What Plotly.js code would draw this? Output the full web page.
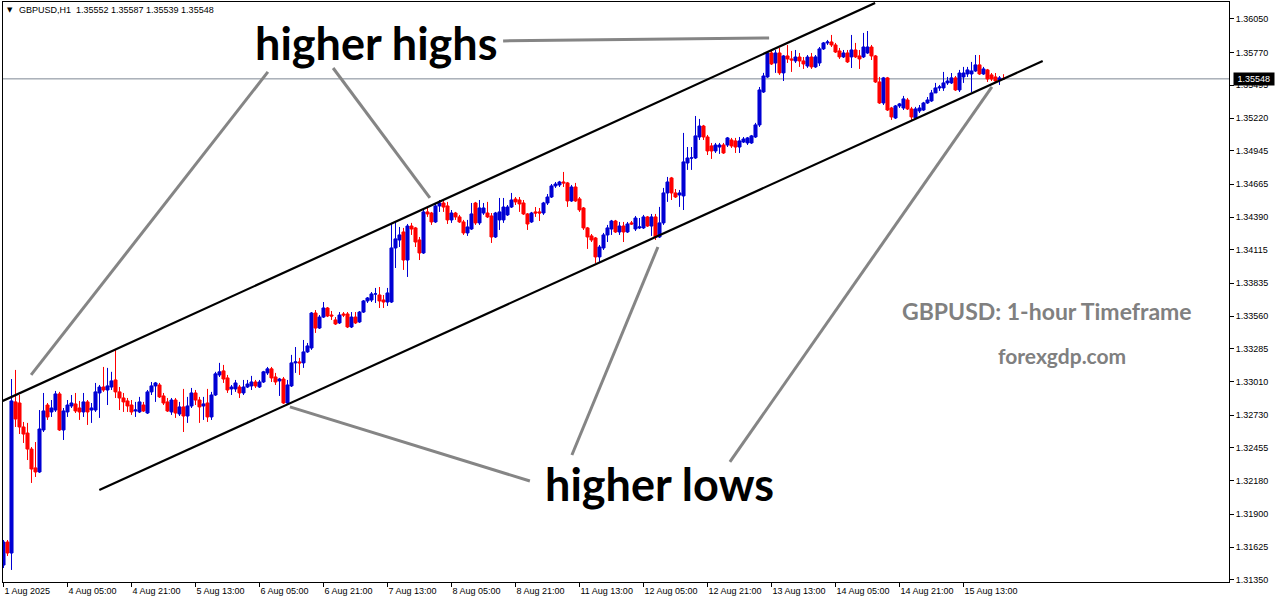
<!DOCTYPE html>
<html>
<head>
<meta charset="utf-8">
<script src="https://cdn.plot.ly/plotly-3.0.1.min.js"></script>
<style>
html,body{margin:0;padding:0;background:#fff;}
#chart{width:1276px;height:604px;}
</style>
</head>
<body>
<div id="chart"></div>
<script>
// ---- data (GBPUSD H1) ----
const open = [
1.31474,1.31667,1.31575,1.32841,1.32832,1.32631,1.32580,1.32446,1.32288,1.32254,
1.32606,1.32815,1.32757,1.32773,1.32908,1.32606,1.32757,1.32807,1.32824,1.32790,
1.32757,1.32841,1.32773,1.32773,1.32916,1.32966,1.32941,1.32966,1.33025,1.32925,
1.32874,1.32849,1.32815,1.32765,1.32757,1.32815,1.32748,1.32925,1.32975,1.32983,
1.32891,1.32841,1.32757,1.32857,1.32740,1.32799,1.32723,1.32807,1.32916,1.32857,
1.32807,1.32832,1.32715,1.32899,1.33067,1.33101,1.33042,1.32950,1.32950,1.32966,
1.32916,1.32966,1.32975,1.33008,1.32966,1.33008,1.33084,1.33118,1.33050,1.33017,
1.33033,1.32832,1.32975,1.33168,1.33176,1.33168,1.33260,1.33293,1.33586,1.33460,
1.33552,1.33628,1.33569,1.33528,1.33503,1.33578,1.33578,1.33469,1.33552,1.33511,
1.33594,1.33687,1.33695,1.33746,1.33737,1.33695,1.33678,1.33678,1.34131,1.34198,
1.34265,1.34030,1.34315,1.34299,1.34198,1.34089,1.34433,1.34424,1.34349,1.34483,
1.34508,1.34483,1.34366,1.34424,1.34391,1.34349,1.34257,1.34290,1.34508,1.34341,
1.34424,1.34424,1.34399,1.34223,1.34366,1.34366,1.34408,1.34474,1.34541,1.34533,
1.34508,1.34416,1.34349,1.34433,1.34433,1.34424,1.34508,1.34558,1.34651,1.34659,
1.34684,1.34676,1.34525,1.34642,1.34542,1.34466,1.34299,1.34232,1.34215,1.34056,
1.34131,1.34240,1.34290,1.34357,1.34265,1.34315,1.34265,1.34341,1.34290,1.34299,
1.34299,1.34391,1.34315,1.34391,1.34223,1.34341,1.34592,1.34718,1.34592,1.34575,
1.34567,1.34843,1.34885,1.34885,1.35061,1.35153,1.35061,1.34986,1.34944,1.34977,
1.34994,1.34994,1.35036,1.35028,1.34977,1.35019,1.35011,1.35011,1.35061,1.35162,
1.35438,1.35564,1.35765,1.35681,1.35765,1.35598,1.35740,1.35715,1.35698,1.35731,
1.35698,1.35656,1.35731,1.35648,1.35681,1.35799,1.35849,1.35857,1.35832,1.35782,
1.35732,1.35765,1.35732,1.35790,1.35740,1.35732,1.35765,1.35815,1.35740,1.35522,
1.35346,1.35556,1.35304,1.35220,1.35321,1.35304,1.35371,1.35296,1.35220,1.35279,
1.35287,1.35346,1.35363,1.35430,1.35472,1.35472,1.35514,1.35514,1.35556,1.35455,
1.35564,1.35589,1.35589,1.35614,1.35665,1.35589,1.35623,1.35581,1.35564,1.35539,
1.35552];
const high = [
1.31684,1.31684,1.33033,1.33109,1.32899,1.32673,1.32665,1.32463,1.32505,1.32773,
1.32916,1.32832,1.32857,1.32933,1.32925,1.32790,1.32857,1.32899,1.32916,1.32849,
1.32916,1.32857,1.32832,1.33000,1.32983,1.33134,1.33126,1.33093,1.33284,1.32966,
1.32916,1.32874,1.32857,1.32841,1.32883,1.32841,1.32941,1.33008,1.33008,1.33000,
1.32916,1.32874,1.32874,1.32874,1.32841,1.32950,1.32883,1.32958,1.32941,1.32883,
1.32883,1.32950,1.32925,1.33093,1.33168,1.33151,1.33067,1.32983,1.33025,1.32983,
1.33025,1.33025,1.33059,1.33025,1.33025,1.33101,1.33134,1.33134,1.33084,1.33042,
1.33050,1.33025,1.33235,1.33301,1.33210,1.33360,1.33335,1.33594,1.33611,1.33569,
1.33678,1.33636,1.33603,1.33552,1.33594,1.33594,1.33594,1.33594,1.33594,1.33603,
1.33695,1.33720,1.33762,1.33796,1.33804,1.33737,1.33796,1.34341,1.34349,1.34307,
1.34299,1.34332,1.34341,1.34307,1.34223,1.34449,1.34474,1.34433,1.34508,1.34533,
1.34533,1.34517,1.34449,1.34433,1.34408,1.34366,1.34366,1.34508,1.34517,1.34533,
1.34508,1.34517,1.34424,1.34433,1.34550,1.34550,1.34491,1.34592,1.34558,1.34558,
1.34533,1.34424,1.34433,1.34474,1.34466,1.34517,1.34583,1.34667,1.34684,1.34693,
1.34768,1.34684,1.34659,1.34676,1.34558,1.34474,1.34307,1.34248,1.34223,1.34156,
1.34257,1.34324,1.34366,1.34366,1.34349,1.34349,1.34349,1.34357,1.34399,1.34382,
1.34408,1.34399,1.34416,1.34416,1.34475,1.34634,1.34726,1.34726,1.34625,1.34617,
1.35095,1.34977,1.34977,1.35237,1.35212,1.35162,1.35078,1.35011,1.35011,1.35011,
1.35011,1.35061,1.35053,1.35053,1.35061,1.35061,1.35061,1.35078,1.35179,1.35480,
1.35598,1.35773,1.35790,1.35790,1.35807,1.35748,1.35832,1.35782,1.35790,1.35765,
1.35731,1.35748,1.35765,1.35748,1.35815,1.35857,1.35874,1.35916,1.35849,1.35807,
1.35790,1.35790,1.35916,1.35849,1.35790,1.35933,1.35949,1.35832,1.35748,1.35564,
1.35564,1.35564,1.35313,1.35329,1.35346,1.35405,1.35388,1.35313,1.35313,1.35329,
1.35355,1.35396,1.35455,1.35514,1.35497,1.35606,1.35564,1.35597,1.35572,1.35623,
1.35648,1.35648,1.35690,1.35748,1.35748,1.35648,1.35631,1.35597,1.35597,1.35572,
1.35587];
const low = [
1.31449,1.31550,1.31433,1.32631,1.32572,1.32497,1.32354,1.32162,1.32212,1.32246,
1.32589,1.32690,1.32715,1.32757,1.32598,1.32522,1.32715,1.32790,1.32748,1.32690,
1.32715,1.32648,1.32665,1.32757,1.32707,1.32925,1.32815,1.32941,1.32874,1.32773,
1.32757,1.32757,1.32732,1.32715,1.32748,1.32757,1.32740,1.32899,1.32841,1.32874,
1.32815,1.32757,1.32732,1.32707,1.32723,1.32589,1.32665,1.32790,1.32815,1.32665,
1.32690,1.32673,1.32690,1.32891,1.33050,1.33000,1.32916,1.32899,1.32925,1.32874,
1.32899,1.32958,1.32941,1.32958,1.32958,1.33000,1.33067,1.33008,1.32983,1.32891,
1.32824,1.32815,1.32966,1.33084,1.33067,1.33126,1.33252,1.33277,1.33419,1.33452,
1.33544,1.33552,1.33528,1.33486,1.33494,1.33552,1.33460,1.33460,1.33494,1.33503,
1.33586,1.33670,1.33678,1.33670,1.33628,1.33628,1.33645,1.33670,1.33963,1.34139,
1.33947,1.33888,1.34240,1.34139,1.34030,1.34081,1.34391,1.34324,1.34341,1.34433,
1.34433,1.34332,1.34341,1.34366,1.34341,1.34240,1.34232,1.34282,1.34324,1.34324,
1.34408,1.34382,1.34173,1.34215,1.34282,1.34341,1.34399,1.34466,1.34491,1.34433,
1.34408,1.34282,1.34341,1.34391,1.34357,1.34408,1.34491,1.34550,1.34634,1.34642,
1.34642,1.34475,1.34517,1.34517,1.34433,1.34282,1.34123,1.34181,1.34005,1.34014,
1.34114,1.34181,1.34240,1.34257,1.34240,1.34181,1.34257,1.34324,1.34273,1.34290,
1.34290,1.34307,1.34232,1.34198,1.34215,1.34324,1.34517,1.34533,1.34550,1.34475,
1.34449,1.34785,1.34785,1.34877,1.35036,1.35036,1.34910,1.34877,1.34927,1.34919,
1.34919,1.34977,1.34969,1.34927,1.34927,1.35011,1.34994,1.35003,1.35053,1.35145,
1.35430,1.35556,1.35664,1.35598,1.35581,1.35530,1.35681,1.35606,1.35681,1.35648,
1.35631,1.35640,1.35631,1.35640,1.35656,1.35790,1.35832,1.35815,1.35765,1.35715,
1.35723,1.35681,1.35639,1.35723,1.35631,1.35723,1.35757,1.35706,1.35514,1.35338,
1.35329,1.35279,1.35204,1.35212,1.35304,1.35287,1.35287,1.35204,1.35212,1.35262,
1.35279,1.35338,1.35355,1.35430,1.35447,1.35447,1.35497,1.35505,1.35447,1.35438,
1.35514,1.35564,1.35438,1.35606,1.35581,1.35581,1.35522,1.35530,1.35514,1.35497,
1.35539];
const close = [
1.31667,1.31575,1.32849,1.32698,1.32631,1.32572,1.32446,1.32279,1.32254,1.32614,
1.32765,1.32715,1.32790,1.32908,1.32606,1.32765,1.32815,1.32832,1.32765,1.32757,
1.32841,1.32757,1.32790,1.32925,1.32966,1.32941,1.32975,1.33017,1.32925,1.32874,
1.32841,1.32807,1.32757,1.32773,1.32841,1.32765,1.32925,1.32975,1.33000,1.32883,
1.32832,1.32765,1.32857,1.32748,1.32799,1.32723,1.32807,1.32916,1.32857,1.32799,
1.32824,1.32715,1.32899,1.33076,1.33093,1.33033,1.32941,1.32966,1.33000,1.32916,
1.32966,1.32991,1.33008,1.32975,1.33008,1.33093,1.33118,1.33042,1.33008,1.33033,
1.32832,1.32983,1.33168,1.33176,1.33168,1.33260,1.33310,1.33586,1.33460,1.33552,
1.33628,1.33561,1.33561,1.33494,1.33569,1.33569,1.33469,1.33552,1.33503,1.33594,
1.33687,1.33712,1.33746,1.33746,1.33687,1.33678,1.33754,1.34131,1.34207,1.34240,
1.34030,1.34315,1.34290,1.34181,1.34089,1.34433,1.34416,1.34349,1.34483,1.34508,
1.34474,1.34366,1.34424,1.34391,1.34349,1.34257,1.34307,1.34416,1.34341,1.34466,
1.34466,1.34391,1.34223,1.34424,1.34433,1.34474,1.34474,1.34533,1.34517,1.34500,
1.34416,1.34332,1.34424,1.34424,1.34424,1.34508,1.34558,1.34651,1.34667,1.34684,
1.34676,1.34525,1.34642,1.34525,1.34450,1.34299,1.34223,1.34198,1.34056,1.34139,
1.34240,1.34299,1.34357,1.34265,1.34315,1.34265,1.34332,1.34332,1.34382,1.34307,
1.34391,1.34315,1.34391,1.34223,1.34341,1.34592,1.34684,1.34592,1.34558,1.34592,
1.34852,1.34885,1.34885,1.35070,1.35153,1.35061,1.34944,1.34944,1.34994,1.34994,
1.34927,1.35053,1.34986,1.34977,1.35028,1.35044,1.35053,1.35070,1.35162,1.35455,
1.35572,1.35765,1.35673,1.35765,1.35598,1.35740,1.35715,1.35706,1.35731,1.35698,
1.35673,1.35731,1.35648,1.35732,1.35799,1.35849,1.35857,1.35832,1.35773,1.35732,
1.35765,1.35690,1.35790,1.35732,1.35715,1.35815,1.35815,1.35740,1.35522,1.35346,
1.35556,1.35287,1.35229,1.35321,1.35338,1.35380,1.35296,1.35229,1.35296,1.35304,
1.35346,1.35371,1.35430,1.35472,1.35480,1.35514,1.35530,1.35556,1.35455,1.35597,
1.35597,1.35623,1.35614,1.35665,1.35589,1.35631,1.35547,1.35547,1.35530,1.35556,
1.35548];

const timeTickIdx = [0,16,32,48,64,80,96,112,128,144,160,176,192,208,224,240];
const timeTickText = ['1 Aug 2025','4 Aug 05:00','4 Aug 21:00','5 Aug 13:00','6 Aug 05:00','6 Aug 21:00','7 Aug 13:00','8 Aug 05:00','8 Aug 21:00','11 Aug 13:00','12 Aug 05:00','12 Aug 21:00','13 Aug 13:00','14 Aug 05:00','14 Aug 21:00','15 Aug 13:00'];
const priceTicks = [1.36050,1.35770,1.35495,1.35220,1.34945,1.34665,1.34390,1.34115,1.33835,1.33560,1.33285,1.33010,1.32730,1.32455,1.32180,1.31900,1.31625,1.31350];

const symbol = 'GBPUSD,H1';
const lastPrice = 1.35548;

// trend lines [x0 (bar index), price0, x1, price1]
const channelUpper = [-0.2, 1.32849, 217.9, 1.36184];
const channelLower = [23.95, 1.32103, 259.8, 1.35698];
const pointerLines = [
  [66.1, 1.35606, 6.9, 1.33067],
  [82.4, 1.35639, 106.6, 1.34550],
  [124.9, 1.35866, 191.4, 1.35891],
  [131.6, 1.32178, 71.6, 1.32799],
  [142.1, 1.32396, 163.6, 1.34139],
  [181.6, 1.32338, 247.1, 1.35480]
];

const xIdx = open.map((_, i) => i);

const trace = {
  type: 'candlestick',
  x: xIdx, open: open, high: high, low: low, close: close,
  increasing: {line: {color: '#0000d4', width: 1}, fillcolor: '#0000d4'},
  decreasing: {line: {color: '#ff0000', width: 1}, fillcolor: '#ff0000'},
  whiskerwidth: 0,
  hoverinfo: 'none',
  showlegend: false
};

function seg(a, color, width) {
  return {type: 'line', xref: 'x', yref: 'y', x0: a[0], y0: a[1], x1: a[2], y1: a[3],
    line: {color: color, width: width}, layer: 'above'};
}

const shapes = [
  {type: 'line', xref: 'paper', yref: 'y', x0: 0, x1: 1, y0: lastPrice, y1: lastPrice,
   line: {color: '#7d8793', width: 1}, layer: 'below'},
  seg(channelUpper, '#000000', 2.2),
  seg(channelLower, '#000000', 2.2)
].concat(pointerLines.map(p => seg(p, '#858585', 3)));

const annFont = {family: 'Lato, "Open Sans", sans-serif', size: 45, color: '#000000', weight: 700};
const grayFont = {family: 'Lato, "Open Sans", sans-serif', size: 23, color: '#808080', weight: 700};

const annotations = [
  {xref: 'paper', yref: 'paper', x: 0.0016, y: 0.9862, xanchor: 'left', yanchor: 'middle',
   text: '▼', showarrow: false, font: {family: 'DejaVu Sans', size: 7, color: '#000'}},
  {xref: 'paper', yref: 'paper', x: 0.0118, y: 0.9862, xanchor: 'left', yanchor: 'middle',
   text: symbol + '\u00a0\u00a0' + [open[open.length-1], high[high.length-1], low[low.length-1], close[close.length-1]].map(v => v.toFixed(5)).join(' '),
   showarrow: false, font: {family: '"Liberation Sans", Arial, sans-serif', size: 9, color: '#000'}},
  {xref: 'x', yref: 'y', x: 93.1, y: 1.35849, text: 'higher highs', showarrow: false, font: annFont},
  {xref: 'x', yref: 'y', x: 164.1, y: 1.32153, text: 'higher lows', showarrow: false, font: annFont},
  {xref: 'x', yref: 'y', x: 260.9, y: 1.33603, text: 'GBPUSD: 1-hour Timeframe', showarrow: false, font: grayFont},
  {xref: 'x', yref: 'y', x: 264.6, y: 1.33226, text: 'forexgdp.com', showarrow: false, font: Object.assign({}, grayFont, {size: 21})},
  {xref: 'paper', yref: 'y', x: 1.0034, y: lastPrice, xanchor: 'left', yanchor: 'middle',
   text: '\u00a0' + lastPrice.toFixed(5) + '\u00a0', showarrow: false, bgcolor: '#000000', borderpad: 1,
   font: {family: '"Liberation Sans", Arial, sans-serif', size: 9, color: '#ffffff'}}
];

const axisFont = {family: '"Liberation Sans", Arial, sans-serif', size: 9, color: '#000000'};

const layout = {
  width: 1276, height: 604,
  margin: {l: 3, r: 47, t: 2, b: 22, pad: 0},
  paper_bgcolor: '#ffffff', plot_bgcolor: '#ffffff',
  showlegend: false,
  boxgap: 0.2, boxgroupgap: 0.05,
  xaxis: {
    type: 'linear', range: [-0.125, 306.375], fixedrange: true,
    showgrid: false, zeroline: false, showline: true, mirror: true,
    linecolor: '#000000', linewidth: 1,
    ticks: 'outside', ticklen: 4, tickcolor: '#000000', tickwidth: 1,
    tickvals: timeTickIdx, ticktext: timeTickText,
    ticklabelposition: 'outside right', tickfont: axisFont,
    rangeslider: {visible: false}
  },
  yaxis: {
    range: [1.31332, 1.36192], fixedrange: true, side: 'right',
    showgrid: false, zeroline: false, showline: true, mirror: true,
    linecolor: '#000000', linewidth: 1,
    ticks: 'outside', ticklen: 4, tickcolor: '#000000', tickwidth: 1,
    tickvals: priceTicks, ticktext: priceTicks.map(v => v.toFixed(5)),
    tickfont: axisFont
  },
  shapes: shapes,
  annotations: annotations
};

Plotly.newPlot('chart', [trace], layout, {staticPlot: true, displayModeBar: false});
</script>
</body>
</html>
